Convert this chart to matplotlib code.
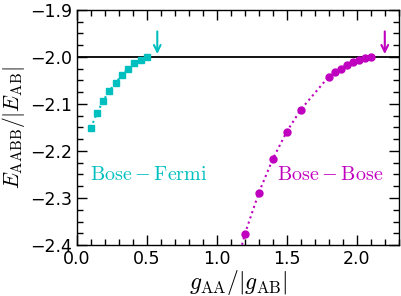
import matplotlib
matplotlib.use("Agg")
import matplotlib.pyplot as plt
from matplotlib.ticker import MultipleLocator

plt.rcParams['mathtext.fontset'] = 'cm'
plt.rcParams['font.family'] = ['DejaVu Sans']

# Bose-Fermi data
bf_x = [0.1, 0.144, 0.189, 0.233, 0.278, 0.322, 0.367, 0.411, 0.456, 0.5]
bf_y = [-2.151, -2.120, -2.093, -2.072, -2.056, -2.038, -2.025, -2.014, -2.006, -2.001]

# Bose-Bose data
bb_x = [1.1, 1.2, 1.3, 1.4, 1.5, 1.6, 1.8, 1.843, 1.886, 1.929, 1.971, 2.014, 2.057, 2.1]
bb_y = [-2.49, -2.377, -2.289, -2.217, -2.159, -2.112, -2.042, -2.033, -2.025, -2.017,
        -2.011, -2.007, -2.003, -2.001]

threshold = -2.0
arrow_bf_x = 0.575
arrow_bb_x = 2.2

cyan = (0.0, 0.75, 0.75)
magenta = (0.75, 0.0, 0.75)

fig = plt.figure(figsize=(4.02, 2.96), dpi=100)
ax = fig.add_axes([0.191, 0.172, 0.801, 0.795])

ax.axhline(threshold, color='k', lw=1.3, zorder=1)
ax.plot(bf_x, bf_y, ls=':', color=cyan, marker='s', ms=5, mec=cyan, lw=1.5)
ax.plot(bb_x, bb_y, ls=':', color=magenta, marker='o', ms=5, mec=magenta, lw=1.5)

for xa, col in [(arrow_bf_x, cyan), (arrow_bb_x, magenta)]:
    ax.annotate('', xy=(xa, -1.994), xytext=(xa, -1.946),
                arrowprops=dict(arrowstyle='->', color=col, lw=1.5, mutation_scale=12,
                                shrinkA=0, shrinkB=0))

ax.text(0.095, -2.251, r'$\rm Bose-Fermi$', color=cyan, fontsize=14.5, va='center', ha='left')
ax.text(1.43, -2.251, r'$\rm Bose-Bose$', color=magenta, fontsize=14.5, va='center', ha='left')

ax.set_xlim(0, 2.3)
ax.set_ylim(-2.4, -1.9)
ax.xaxis.set_major_locator(MultipleLocator(0.5))
ax.xaxis.set_minor_locator(MultipleLocator(0.1))
ax.yaxis.set_major_locator(MultipleLocator(0.1))
ax.yaxis.set_minor_locator(MultipleLocator(0.025))
ax.tick_params(which='both', direction='in', top=True, right=True, labelsize=12.5)
ax.tick_params(which='major', length=7, width=1)
ax.tick_params(which='minor', length=4, width=1)
for s in ax.spines.values():
    s.set_linewidth(1)

ax.set_xlabel(r'$g_{\rm AA}/|g_{\rm AB}|$', fontsize=17, labelpad=0)
ax.set_ylabel(r'$E_{\rm AABB}/|E_{\rm AB}|$', fontsize=15.5, labelpad=2)

fig.savefig('out.png', dpi=100)
